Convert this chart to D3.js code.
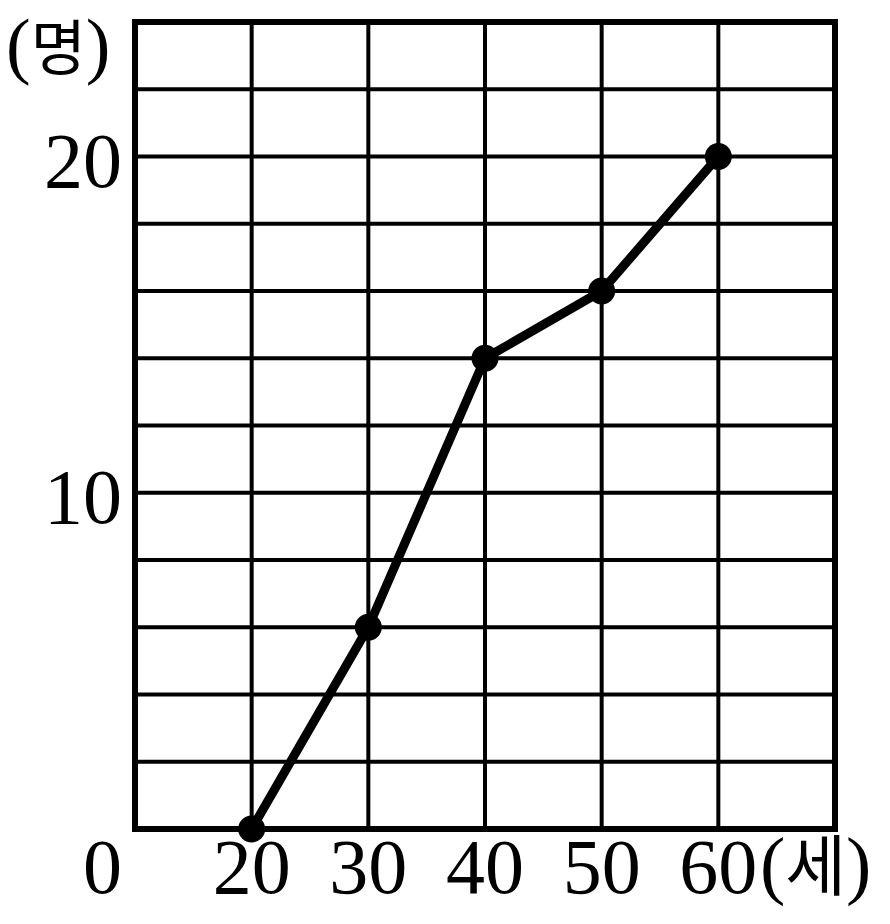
<!DOCTYPE html>
<html><head><meta charset="utf-8">
<script src="https://cdn.jsdelivr.net/npm/d3@7"></script>
<style>body{margin:0;background:#fff}</style>
</head><body>
<svg id="c" width="890" height="924"></svg>
<script>
const ages = [20, 30, 40, 50, 60];
const counts = [0, 6, 14, 16, 20];
const xTickLabels = ["20", "30", "40", "50", "60"];
const yTickValues = [10, 20];
const xUnit = "(세)";
const yUnit = "(명)";

const svg = d3.select("#c");
const x = d3.scaleLinear().domain([10, 70]).range([135, 835]);
const y = d3.scaleLinear().domain([0, 24]).range([829, 22]);
const serif = "'Liberation Serif','DejaVu Serif',serif";

// grid
const g = svg.append("g");
g.selectAll(".vx").data(d3.range(20, 70, 10)).join("line")
  .attr("x1", d => x(d)).attr("x2", d => x(d)).attr("y1", y(24)).attr("y2", y(0))
  .attr("stroke", "#000").attr("stroke-width", 4);
g.selectAll(".hy").data(d3.range(2, 24, 2)).join("line")
  .attr("x1", x(10)).attr("x2", x(70)).attr("y1", d => y(d)).attr("y2", d => y(d))
  .attr("stroke", "#000").attr("stroke-width", 4);
// frame
g.append("rect").attr("x", x(10)).attr("y", y(24)).attr("width", x(70) - x(10)).attr("height", y(0) - y(24))
  .attr("fill", "none").attr("stroke", "#000").attr("stroke-width", 6);

// line
const pts = ages.map((a, i) => [a, counts[i]]);
svg.append("path").datum(pts)
  .attr("d", d3.line().x(d => x(d[0])).y(d => y(d[1])))
  .attr("fill", "none").attr("stroke", "#000").attr("stroke-width", 9).attr("stroke-linejoin", "round");
svg.selectAll(".dot").data(pts).join("circle")
  .attr("cx", d => x(d[0])).attr("cy", d => y(d[1])).attr("r", 13.5).attr("fill", "#000");

// labels
const fs = 78;
svg.selectAll(".xl").data(ages).join("text")
  .attr("x", d => x(d)).attr("y", 893).attr("text-anchor", "middle")
  .attr("font-family", serif).attr("font-size", fs).text((d, i) => xTickLabels[i]);
svg.append("text").attr("x", 122).attr("y", 893).attr("text-anchor", "end")
  .attr("font-family", serif).attr("font-size", fs).text("0");
svg.selectAll(".yl").data(yTickValues).join("text")
  .attr("x", 122).attr("y", d => y(d) + 30).attr("text-anchor", "end")
  .attr("font-family", serif).attr("font-size", fs).text(d => d);

// units
function unit(txt, xPos, yPos, pfs, kfs) {
  const t = svg.append("text").attr("x", xPos).attr("y", yPos).attr("text-anchor", "start");
  t.append("tspan").attr("font-family", serif).attr("font-size", pfs).text(txt[0]);
  t.append("tspan").attr("font-family", "'Noto Sans CJK KR',sans-serif").attr("font-size", kfs).text(txt.slice(1, -1));
  t.append("tspan").attr("font-family", serif).attr("font-size", pfs).text(txt.slice(-1));
}
unit(yUnit, 6, 70, 74, 60);
unit(xUnit, 760, 890, 76, 66);
</script>
</body></html>
